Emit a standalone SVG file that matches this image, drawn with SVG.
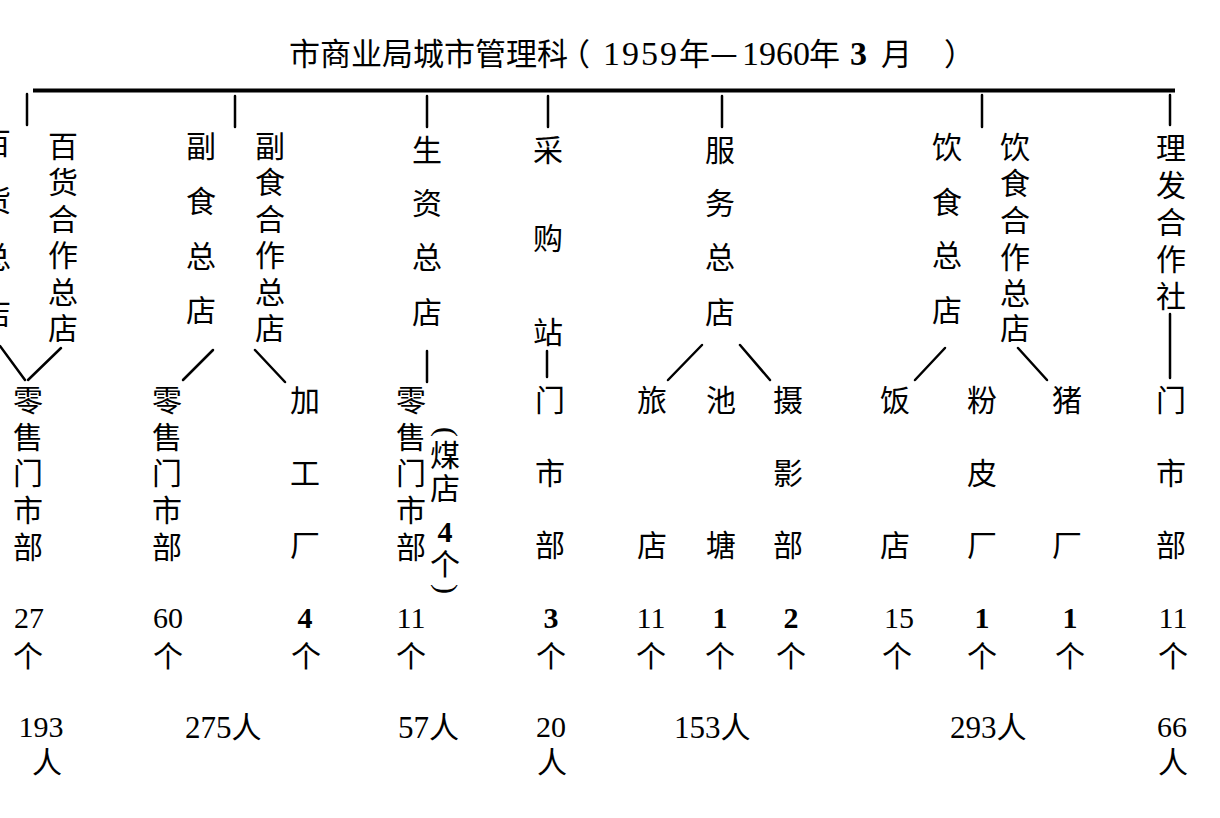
<svg xmlns="http://www.w3.org/2000/svg" width="1220" height="818" viewBox="0 0 1220 818">
<style>
.c{font-family:"Noto Sans CJK SC","Noto Sans CJK JP",sans-serif;font-size:30px;fill:#000;text-anchor:middle}
.n{font-family:"Liberation Serif",serif;font-size:30px;fill:#000;text-anchor:middle}
.s{text-anchor:start}
.p{font-family:"Liberation Serif",serif;font-size:31px;fill:#000;text-anchor:start}
.pc{font-family:"Noto Sans CJK SC","Noto Sans CJK JP",sans-serif;font-size:30px}
.b{font-weight:bold}
.t{font-family:"Noto Sans CJK SC","Noto Sans CJK JP",sans-serif;font-size:31px;fill:#000}
.tn{font-family:"Liberation Serif",serif;font-size:34px}
.ln{stroke:#000;stroke-width:2.5;stroke-linecap:round;fill:none}
.main{stroke:#000;stroke-width:4;fill:none}
</style>
<rect width="1220" height="818" fill="#fff"/>
<g id="title">
<text class="t" y="65"><tspan x="289">市商业局城市管理科</tspan><tspan x="559">（</tspan><tspan x="603" class="tn" letter-spacing="2">1959</tspan><tspan x="679">年</tspan><tspan x="710">—</tspan><tspan x="742" class="tn">1960</tspan><tspan x="809">年</tspan><tspan x="850" class="tn b">3</tspan><tspan x="881">月</tspan><tspan x="944">）</tspan></text>
</g>
<g id="connectors">
<line class="main" x1="33" y1="90.5" x2="1175" y2="90.5"/>
<line class="ln" x1="27" y1="94" x2="27" y2="125"/>
<line class="ln" x1="235" y1="96" x2="235" y2="127"/>
<line class="ln" x1="427" y1="96" x2="427" y2="127"/>
<line class="ln" x1="548" y1="96" x2="548" y2="127"/>
<line class="ln" x1="722" y1="96" x2="722" y2="127"/>
<line class="ln" x1="982" y1="95" x2="982" y2="127"/>
<line class="ln" x1="1170" y1="95" x2="1170" y2="125"/>
<line class="ln" x1="0" y1="346" x2="25" y2="380"/>
<line class="ln" x1="61" y1="348" x2="28" y2="380"/>
<line class="ln" x1="213" y1="350" x2="183" y2="380"/>
<line class="ln" x1="255" y1="350" x2="285" y2="382"/>
<line class="ln" x1="427" y1="351" x2="427" y2="382"/>
<line class="ln" x1="547" y1="351" x2="547" y2="377"/>
<line class="ln" x1="702" y1="345" x2="668" y2="380"/>
<line class="ln" x1="740" y1="345" x2="770" y2="380"/>
<line class="ln" x1="945" y1="348" x2="915" y2="380"/>
<line class="ln" x1="1018" y1="348" x2="1047" y2="380"/>
<line class="ln" x1="1170" y1="314" x2="1170" y2="378"/>
</g>
<g id="n-baihuo-zong">
<text class="c"><tspan x="-4" y="154">百</tspan><tspan x="-4" y="211">货</tspan><tspan x="-4" y="268">总</tspan><tspan x="-4" y="324">店</tspan></text>
</g>
<g id="n-baihuo-hezuo">
<text class="c"><tspan x="63" y="157">百</tspan><tspan x="63" y="193.4">货</tspan><tspan x="63" y="229.8">合</tspan><tspan x="63" y="266.2">作</tspan><tspan x="63" y="302.6">总</tspan><tspan x="63" y="339">店</tspan></text>
</g>
<g id="n-fushi-zong">
<text class="c"><tspan x="201" y="157">副</tspan><tspan x="201" y="212">食</tspan><tspan x="201" y="267">总</tspan><tspan x="201" y="321">店</tspan></text>
</g>
<g id="n-fushi-hezuo">
<text class="c"><tspan x="270" y="157">副</tspan><tspan x="270" y="193.4">食</tspan><tspan x="270" y="229.8">合</tspan><tspan x="270" y="266.2">作</tspan><tspan x="270" y="302.6">总</tspan><tspan x="270" y="339">店</tspan></text>
</g>
<g id="n-shengzi">
<text class="c"><tspan x="427" y="161">生</tspan><tspan x="427" y="214">资</tspan><tspan x="427" y="268">总</tspan><tspan x="427" y="323">店</tspan></text>
</g>
<g id="n-caigou">
<text class="c"><tspan x="548" y="161">采</tspan><tspan x="548" y="249">购</tspan><tspan x="548" y="343">站</tspan></text>
</g>
<g id="n-fuwu">
<text class="c"><tspan x="720" y="161">服</tspan><tspan x="720" y="214">务</tspan><tspan x="720" y="268">总</tspan><tspan x="720" y="323">店</tspan></text>
</g>
<g id="n-yinshi-zong">
<text class="c"><tspan x="947" y="158">饮</tspan><tspan x="947" y="213">食</tspan><tspan x="947" y="266">总</tspan><tspan x="947" y="321">店</tspan></text>
</g>
<g id="n-yinshi-hezuo">
<text class="c"><tspan x="1015" y="158">饮</tspan><tspan x="1015" y="194">食</tspan><tspan x="1015" y="231">合</tspan><tspan x="1015" y="268">作</tspan><tspan x="1015" y="304">总</tspan><tspan x="1015" y="339">店</tspan></text>
</g>
<g id="n-lifa">
<text class="c"><tspan x="1171" y="159">理</tspan><tspan x="1171" y="196">发</tspan><tspan x="1171" y="233">合</tspan><tspan x="1171" y="270">作</tspan><tspan x="1171" y="307">社</tspan></text>
</g>
<g id="s-lingshou-1">
<text class="c"><tspan x="28" y="411">零</tspan><tspan x="28" y="448">售</tspan><tspan x="28" y="484">门</tspan><tspan x="28" y="521">市</tspan><tspan x="28" y="558">部</tspan></text>
<text class="n" x="29" y="628">27</text><text class="c" x="28" y="667">个</text>
</g>
<g id="s-lingshou-2">
<text class="c"><tspan x="167" y="411">零</tspan><tspan x="167" y="448">售</tspan><tspan x="167" y="484">门</tspan><tspan x="167" y="521">市</tspan><tspan x="167" y="558">部</tspan></text>
<text class="n" x="168" y="628">60</text><text class="c" x="168" y="667">个</text>
</g>
<g id="s-jiagongchang">
<text class="c"><tspan x="305" y="411">加</tspan><tspan x="305" y="484">工</tspan><tspan x="305" y="556">厂</tspan></text>
<text class="n b" x="305" y="628">4</text><text class="c" x="306" y="667">个</text>
</g>
<g id="s-lingshou-3">
<text class="c"><tspan x="411" y="411">零</tspan><tspan x="411" y="448">售</tspan><tspan x="411" y="484">门</tspan><tspan x="411" y="521">市</tspan><tspan x="411" y="558">部</tspan></text>
<text class="n" x="411" y="628">11</text><text class="c" x="411" y="667">个</text>
</g>
<g id="s-meidian">
<text class="n" x="445" y="440" transform="rotate(90 445 432)">(</text>
<text class="c"><tspan x="445" y="466">煤</tspan><tspan x="445" y="499">店</tspan></text>
<text class="n b" x="445" y="542" font-size="29">4</text>
<text class="c" x="445" y="575">个</text>
<text class="n" x="445" y="597" transform="rotate(90 445 589)">)</text>
</g>
<g id="s-menshibu-1">
<text class="c"><tspan x="550" y="411">门</tspan><tspan x="550" y="484">市</tspan><tspan x="550" y="556">部</tspan></text>
<text class="n b" x="551" y="628">3</text><text class="c" x="551" y="667">个</text>
</g>
<g id="s-lvdian">
<text class="c"><tspan x="652" y="411">旅</tspan><tspan x="652" y="556">店</tspan></text>
<text class="n" x="651" y="628">11</text><text class="c" x="651" y="667">个</text>
</g>
<g id="s-chitang">
<text class="c"><tspan x="721" y="411">池</tspan><tspan x="721" y="556">塘</tspan></text>
<text class="n b" x="720" y="628">1</text><text class="c" x="720" y="667">个</text>
</g>
<g id="s-sheyingbu">
<text class="c"><tspan x="788" y="411">摄</tspan><tspan x="788" y="484">影</tspan><tspan x="788" y="556">部</tspan></text>
<text class="n b" x="791" y="628">2</text><text class="c" x="791" y="667">个</text>
</g>
<g id="s-fandian">
<text class="c"><tspan x="895" y="411">饭</tspan><tspan x="895" y="556">店</tspan></text>
<text class="n" x="899" y="628">15</text><text class="c" x="897" y="667">个</text>
</g>
<g id="s-fenpichang">
<text class="c"><tspan x="982" y="411">粉</tspan><tspan x="982" y="484">皮</tspan><tspan x="982" y="556">厂</tspan></text>
<text class="n b" x="982" y="628">1</text><text class="c" x="982" y="667">个</text>
</g>
<g id="s-zhuchang">
<text class="c"><tspan x="1067" y="411">猪</tspan><tspan x="1067" y="556">厂</tspan></text>
<text class="n b" x="1070" y="628">1</text><text class="c" x="1070" y="667">个</text>
</g>
<g id="s-menshibu-2">
<text class="c"><tspan x="1171" y="411">门</tspan><tspan x="1171" y="484">市</tspan><tspan x="1171" y="556">部</tspan></text>
<text class="n" x="1173" y="628">11</text><text class="c" x="1173" y="667">个</text>
</g>
<g id="totals">
<text class="n" x="41" y="737" font-size="31">193</text><text class="c" x="47" y="773">人</text>
<text class="p" x="185" y="738">275<tspan class="pc">人</tspan></text>
<text class="p" x="398" y="738">57<tspan class="pc">人</tspan></text>
<text class="n" x="551" y="737" font-size="31">20</text><text class="c" x="552" y="773">人</text>
<text class="p" x="674" y="738">153<tspan class="pc">人</tspan></text>
<text class="p" x="950" y="738">293<tspan class="pc">人</tspan></text>
<text class="n" x="1172" y="737" font-size="31">66</text><text class="c" x="1173" y="773">人</text>
</g>
</svg>
